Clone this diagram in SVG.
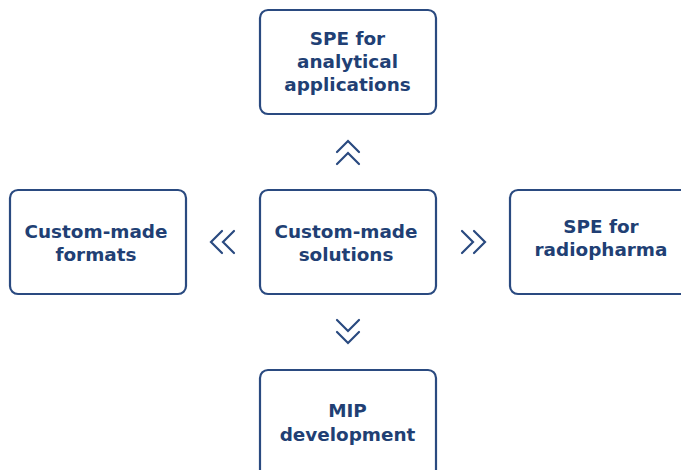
<svg xmlns="http://www.w3.org/2000/svg" width="681" height="470" viewBox="0 0 681 470">
<style>
.box{fill:#fff;stroke:#2a4a80;stroke-width:2.2}
.t{font-family:"DejaVu Sans","Open Sans",sans-serif;font-weight:700;font-size:18.4px;fill:#213f74;text-anchor:middle}
.ch{fill:none;stroke:#2a4a80;stroke-width:2.2;stroke-linecap:round;stroke-linejoin:miter}
</style>
<rect width="681" height="470" fill="#fff"/>
<g id="top"><rect class="box" x="260" y="10" width="176" height="104" rx="8"/>
<text class="t" x="347.5" y="45">SPE for</text><text class="t" x="347.5" y="68">analytical</text><text class="t" x="347.5" y="91">applications</text></g>
<g id="center"><rect class="box" x="260" y="190" width="176" height="104" rx="8"/>
<text class="t" x="346" y="238">Custom-made</text><text class="t" x="346" y="261">solutions</text></g>
<g id="left"><rect class="box" x="10" y="190" width="176" height="104" rx="8"/>
<text class="t" x="96" y="238">Custom-made</text><text class="t" x="96" y="261">formats</text></g>
<g id="right"><rect class="box" x="510" y="190" width="180" height="104" rx="8"/>
<text class="t" x="601" y="233">SPE for</text><text class="t" x="601" y="256">radiopharma</text></g>
<g id="bottom"><rect class="box" x="260" y="370" width="176" height="110" rx="8"/>
<text class="t" x="347.5" y="417">MIP</text><text class="t" x="347.5" y="441">development</text></g>
<g id="connectors">
<path class="ch" d="M337 152 L348 141 L359 152 M337 164 L348 153 L359 164"/>
<path class="ch" d="M337 320 L348 331 L359 320 M337 332 L348 343 L359 332"/>
<path class="ch" d="M222 231 L211 242 L222 253 M234 231 L223 242 L234 253"/>
<path class="ch" d="M462 231 L473 242 L462 253 M474 231 L485 242 L474 253"/>
</g>
</svg>
